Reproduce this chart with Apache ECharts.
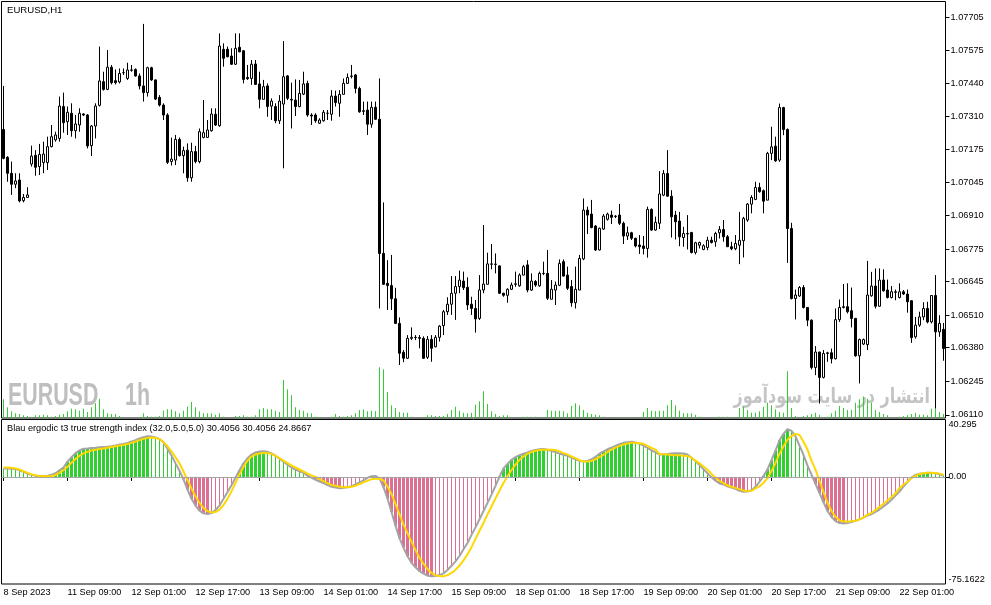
<!DOCTYPE html>
<html><head><meta charset="utf-8">
<script src="https://cdn.jsdelivr.net/npm/echarts@6/dist/echarts.min.js"></script>
<style>html,body{margin:0;padding:0;background:#fff}#c{width:991px;height:605px}</style>
</head><body><div id="c"></div>
<script>
const symbolTitle = 'EURUSD,H1';
const indicatorTitle = 'Blau ergodic t3 true strength index (32.0,5.0,5.0) 30.4056 30.4056 24.8667';
const watermarkSymbol = 'EURUSD';
const watermarkPeriod = '1h';
const watermarkSite = 'انتشار در سایت سودآموز';
const timeLabels = ['8 Sep 2023','11 Sep 09:00','12 Sep 01:00','12 Sep 17:00','13 Sep 09:00','14 Sep 01:00','14 Sep 17:00','15 Sep 09:00','18 Sep 01:00','18 Sep 17:00','19 Sep 09:00','20 Sep 01:00','20 Sep 17:00','21 Sep 09:00','22 Sep 01:00'];
const priceTicks = [1.06110,1.06245,1.06380,1.06510,1.06645,1.06775,1.06910,1.07045,1.07175,1.07310,1.07440,1.07575,1.07705];
const tsiMax = 40.295, tsiMin = -75.1622;

// [open, high, low, close]
const ohlc = [
[1.07256,1.07431,1.07136,1.07140],[1.07144,1.07149,1.07046,1.07080],[1.07080,1.07127,1.06993,1.07036],[1.07036,1.07080,1.07020,1.07049],[1.07053,1.07080,1.06963,1.06969],
[1.06970,1.06997,1.06963,1.06983],[1.06983,1.07024,1.06983,1.06993],[1.07117,1.07191,1.07107,1.07149],[1.07152,1.07173,1.07070,1.07104],[1.07107,1.07198,1.07073,1.07156],
[1.07123,1.07207,1.07080,1.07157],[1.07123,1.07227,1.07093,1.07187],[1.07187,1.07274,1.07184,1.07227],[1.07214,1.07247,1.07207,1.07234],[1.07220,1.07388,1.07207,1.07350],
[1.07348,1.07404,1.07243,1.07283],[1.07287,1.07348,1.07234,1.07325],[1.07321,1.07361,1.07227,1.07251],[1.07251,1.07314,1.07220,1.07278],[1.07274,1.07341,1.07247,1.07321],
[1.07318,1.07321,1.07310,1.07314],[1.07314,1.07318,1.07180,1.07190],[1.07191,1.07274,1.07149,1.07270],[1.07270,1.07361,1.07220,1.07350],[1.07353,1.07589,1.07348,1.07451],
[1.07448,1.07488,1.07412,1.07417],[1.07417,1.07575,1.07414,1.07506],[1.07506,1.07515,1.07437,1.07444],[1.07452,1.07497,1.07437,1.07444],[1.07447,1.07501,1.07441,1.07481],
[1.07484,1.07501,1.07475,1.07484],[1.07461,1.07524,1.07455,1.07495],[1.07495,1.07515,1.07488,1.07494],[1.07497,1.07501,1.07468,1.07471],[1.07471,1.07481,1.07417,1.07431],
[1.07431,1.07680,1.07368,1.07404],[1.07404,1.07508,1.07388,1.07504],[1.07504,1.07508,1.07451,1.07455],[1.07455,1.07457,1.07374,1.07378],[1.07385,1.07394,1.07348,1.07354],
[1.07354,1.07361,1.07294,1.07314],[1.07314,1.07321,1.07117,1.07124],[1.07127,1.07223,1.07111,1.07137],[1.07133,1.07234,1.07113,1.07216],[1.07216,1.07224,1.07147,1.07151],
[1.07151,1.07187,1.07080,1.07171],[1.07173,1.07200,1.07046,1.07062],[1.07062,1.07203,1.07046,1.07167],[1.07167,1.07190,1.07120,1.07127],[1.07127,1.07260,1.07120,1.07247],
[1.07224,1.07374,1.07220,1.07243],[1.07224,1.07294,1.07223,1.07254],[1.07251,1.07341,1.07247,1.07318],[1.07317,1.07341,1.07270,1.07274],[1.07271,1.07642,1.07267,1.07591],
[1.07578,1.07602,1.07508,1.07542],[1.07578,1.07589,1.07546,1.07548],[1.07551,1.07582,1.07515,1.07518],[1.07518,1.07642,1.07515,1.07582],[1.07586,1.07642,1.07566,1.07568],
[1.07572,1.07575,1.07441,1.07457],[1.07465,1.07515,1.07455,1.07460],[1.07461,1.07535,1.07435,1.07518],[1.07519,1.07535,1.07435,1.07437],[1.07439,1.07488,1.07341,1.07377],
[1.07377,1.07455,1.07377,1.07428],[1.07431,1.07441,1.07307,1.07348],[1.07350,1.07381,1.07294,1.07370],[1.07348,1.07361,1.07281,1.07291],[1.07291,1.07394,1.07278,1.07370],
[1.07358,1.07611,1.07100,1.07468],[1.07471,1.07475,1.07374,1.07381],[1.07377,1.07444,1.07260,1.07374],[1.07374,1.07457,1.07310,1.07348],[1.07348,1.07455,1.07345,1.07401],
[1.07398,1.07488,1.07394,1.07439],[1.07441,1.07452,1.07307,1.07314],[1.07314,1.07321,1.07274,1.07310],[1.07314,1.07321,1.07283,1.07291],[1.07281,1.07301,1.07278,1.07294],
[1.07291,1.07334,1.07287,1.07325],[1.07321,1.07334,1.07294,1.07321],[1.07317,1.07414,1.07291,1.07390],[1.07390,1.07412,1.07348,1.07364],[1.07361,1.07414,1.07307,1.07397],
[1.07397,1.07461,1.07397,1.07441],[1.07441,1.07481,1.07439,1.07465],[1.07469,1.07515,1.07461,1.07471],[1.07475,1.07479,1.07401,1.07421],[1.07421,1.07428,1.07323,1.07327],
[1.07331,1.07368,1.07314,1.07329],[1.07334,1.07368,1.07234,1.07277],[1.07277,1.07368,1.07263,1.07345],[1.07345,1.07368,1.07294,1.07297],[1.07297,1.07461,1.06537,1.06758],
[1.06758,1.06963,1.06631,1.06634],[1.06638,1.06731,1.06531,1.06629],[1.06629,1.06752,1.06531,1.06576],[1.06576,1.06620,1.06475,1.06477],[1.06477,1.06501,1.06310,1.06357],
[1.06361,1.06370,1.06321,1.06337],[1.06337,1.06430,1.06334,1.06417],[1.06417,1.06461,1.06410,1.06421],[1.06421,1.06430,1.06410,1.06420],[1.06420,1.06430,1.06377,1.06417],
[1.06417,1.06425,1.06334,1.06337],[1.06341,1.06426,1.06334,1.06413],[1.06413,1.06430,1.06323,1.06377],[1.06383,1.06430,1.06381,1.06421],[1.06421,1.06470,1.06404,1.06466],
[1.06468,1.06531,1.06430,1.06524],[1.06524,1.06582,1.06511,1.06554],[1.06554,1.06667,1.06511,1.06598],[1.06598,1.06667,1.06491,1.06625],[1.06625,1.06689,1.06598,1.06651],
[1.06647,1.06685,1.06611,1.06620],[1.06622,1.06662,1.06531,1.06551],[1.06554,1.06584,1.06511,1.06537],[1.06537,1.06571,1.06440,1.06495],[1.06497,1.06671,1.06491,1.06611],
[1.06611,1.06872,1.06598,1.06635],[1.06634,1.06761,1.06634,1.06716],[1.06716,1.06796,1.06694,1.06715],[1.06715,1.06758,1.06678,1.06714],[1.06708,1.06710,1.06595,1.06598],
[1.06598,1.06600,1.06584,1.06590],[1.06590,1.06618,1.06560,1.06614],[1.06614,1.06641,1.06611,1.06631],[1.06634,1.06685,1.06624,1.06636],[1.06628,1.06678,1.06624,1.06671],
[1.06671,1.06712,1.06671,1.06705],[1.06712,1.06731,1.06602,1.06611],[1.06611,1.06678,1.06607,1.06647],[1.06645,1.06651,1.06624,1.06631],[1.06628,1.06685,1.06624,1.06678],
[1.06678,1.06725,1.06671,1.06677],[1.06678,1.06772,1.06571,1.06578],[1.06574,1.06651,1.06574,1.06614],[1.06611,1.06645,1.06551,1.06631],[1.06630,1.06734,1.06627,1.06718],
[1.06725,1.06734,1.06665,1.06667],[1.06671,1.06705,1.06611,1.06618],[1.06625,1.06651,1.06544,1.06560],[1.06560,1.06705,1.06537,1.06614],[1.06611,1.06752,1.06611,1.06738],
[1.06736,1.06979,1.06731,1.06932],[1.06932,1.06946,1.06836,1.06912],[1.06916,1.06973,1.06859,1.06862],[1.06868,1.06872,1.06768,1.06772],[1.06772,1.06862,1.06770,1.06859],
[1.06856,1.06916,1.06852,1.06908],[1.06895,1.06922,1.06890,1.06916],[1.06912,1.06930,1.06876,1.06903],[1.06906,1.06912,1.06900,1.06908],[1.06912,1.06957,1.06872,1.06879],
[1.06879,1.06886,1.06796,1.06828],[1.06828,1.06866,1.06812,1.06841],[1.06841,1.06845,1.06812,1.06819],[1.06819,1.06821,1.06782,1.06788],[1.06792,1.06832,1.06756,1.06785],
[1.06788,1.06828,1.06754,1.06778],[1.06778,1.06946,1.06741,1.06935],[1.06935,1.06939,1.06849,1.06852],[1.06852,1.06906,1.06849,1.06883],[1.06879,1.07089,1.06856,1.06997],
[1.06992,1.07093,1.06988,1.07079],[1.07079,1.07173,1.06986,1.06988],[1.06988,1.07012,1.06822,1.06905],[1.06912,1.06929,1.06814,1.06885],[1.06888,1.06925,1.06787,1.06825],
[1.06822,1.06865,1.06785,1.06838],[1.06838,1.06912,1.06774,1.06836],[1.06842,1.06845,1.06758,1.06762],[1.06762,1.06805,1.06754,1.06801],[1.06791,1.06805,1.06778,1.06802],
[1.06774,1.06795,1.06771,1.06789],[1.06782,1.06825,1.06771,1.06811],[1.06811,1.06825,1.06798,1.06802],[1.06805,1.06845,1.06785,1.06838],[1.06841,1.06868,1.06818,1.06854],
[1.06854,1.06892,1.06805,1.06825],[1.06825,1.06832,1.06785,1.06785],[1.06785,1.06805,1.06771,1.06777],[1.06777,1.06832,1.06771,1.06798],[1.06791,1.06925,1.06715,1.06811],
[1.06809,1.06905,1.06742,1.06899],[1.06892,1.06961,1.06885,1.06956],[1.06956,1.06992,1.06919,1.06983],[1.06975,1.07046,1.06972,1.07023],[1.07023,1.07042,1.07002,1.07006],
[1.07010,1.07015,1.06919,1.06968],[1.06972,1.07166,1.06972,1.07160],[1.07160,1.07267,1.07133,1.07186],[1.07189,1.07227,1.07126,1.07130],[1.07133,1.07360,1.07126,1.07344],
[1.07344,1.07347,1.07233,1.07256],[1.07256,1.07260,1.06720,1.06858],[1.06858,1.06881,1.06573,1.06577],[1.06577,1.06613,1.06493,1.06591],[1.06587,1.06627,1.06584,1.06621],
[1.06621,1.06631,1.06537,1.06541],[1.06541,1.06543,1.06466,1.06490],[1.06490,1.06493,1.06292,1.06300],[1.06300,1.06386,1.06269,1.06362],[1.06362,1.06363,1.06155,1.06260],
[1.06260,1.06370,1.06256,1.06356],[1.06356,1.06363,1.06323,1.06359],[1.06359,1.06376,1.06316,1.06335],[1.06335,1.06537,1.06332,1.06492],[1.06492,1.06573,1.06483,1.06541],
[1.06541,1.06635,1.06537,1.06544],[1.06544,1.06638,1.06517,1.06524],[1.06528,1.06621,1.06461,1.06497],[1.06497,1.06499,1.06343,1.06347],[1.06347,1.06416,1.06236,1.06412],
[1.06394,1.06416,1.06390,1.06412],[1.06392,1.06728,1.06370,1.06591],[1.06588,1.06684,1.06584,1.06627],[1.06627,1.06698,1.06537,1.06546],[1.06546,1.06698,1.06544,1.06651],
[1.06651,1.06694,1.06604,1.06608],[1.06611,1.06653,1.06577,1.06581],[1.06581,1.06627,1.06577,1.06604],[1.06604,1.06613,1.06570,1.06602],[1.06581,1.06638,1.06577,1.06604],
[1.06604,1.06611,1.06591,1.06595],[1.06595,1.06613,1.06520,1.06564],[1.06568,1.06570,1.06399,1.06420],[1.06423,1.06503,1.06416,1.06470],[1.06470,1.06524,1.06463,1.06503],
[1.06503,1.06562,1.06490,1.06537],[1.06537,1.06564,1.06477,1.06483],[1.06483,1.06591,1.06477,1.06589],[1.06589,1.06671,1.06135,1.06443],[1.06443,1.06510,1.06423,1.06477],
[1.06453,1.06479,1.06327,1.06376]
];

const volume = [
56,32,20,14,12,8,6,3,8,8, 10,8,4,6,10,12,20,28,26,22, 28,18,32,44,58,26,14,12,12,6, 3,1,1,1,1,14,6,4,4,6,
22,26,26,20,14,22,34,48,32,20, 14,14,14,10,14,4,2,1,6,6, 8,4,4,8,26,30,26,26,22,18, 114,86,68,32,24,22,16,14,4,2,
2,1,4,12,6,4,6,8,14,24, 26,20,22,20,152,146,78,38,30,18, 16,16,4,1,1,1,8,8,6,6, 6,12,24,34,22,16,14,16,40,50,
80,42,20,12,6,8,8,2,2,1, 4,4,4,4,1,2,24,22,22,22, 20,14,36,44,38,24,16,12,10,8, 4,1,2,1,2,2,2,2,2,1,
18,30,22,20,22,22,38,54,38,22, 14,14,14,10,4,2,1,2,2,4, 4,4,2,2,30,34,24,16,16,20, 34,46,38,26,18,16,140,30,6,1,
6,8,12,16,10,2,4,14,22,36, 30,24,24,46,56,64,58,46,24,18, 12,8,1,2,4,6,8,12,16,10, 10,8,28,28,18,12
];

const tsi = [
5.9,5.9,5.7,5.5,4.7,3.5,2.3,1.4,0.9,0.7, 0.7,0.9,1.6,2.6,4.7,6.6,10.7,13.8,16.7,18.6,
19.8,20.0,20.3,20.5,20.8,21.0,21.2,21.5,22.0,22.7, 23.1,23.9,24.8,25.8,27.0,27.9,28.6,28.4,27.7,26.5,
24.3,19.8,15.0,9.5,4.3,-1.7,-8.9,-15.4,-20.1,-23.7, -25.6,-26.1,-25.4,-23.2,-20.1,-15.4,-10.6,-5.8,-0.5,4.7,
9.5,13.1,15.7,17.2,17.9,18.1,17.6,16.5,14.8,12.8, 10.7,8.6,6.6,5.2,4.0,2.8,0.9,-0.5,-2.0,-3.2,
-4.4,-5.8,-6.9,-7.4,-7.9,-7.7,-7.2,-6.5,-5.3,-3.8, -2.4,-0.7,0.5,0.7,-1.2,-7.2,-15.1,-24.6,-34.2,-43.0,
-49.6,-55.7,-60.3,-63.4,-66.2,-67.9,-69.3,-69.8,-69.6,-68.9, -67.7,-65.3,-62.4,-59.3,-55.5,-50.7,-46.4,-40.7,-35.4,-29.7,
-23.9,-18.2,-12.4,-6.2,0.2,6.0,9.1,12.0,13.9,15.3, 16.3,17.2,18.2,18.9,19.4,19.6,19.1,18.2,17.5,16.3,
15.5,14.8,13.6,12.4,11.2,10.8,11.2,12.4,14.1,16.3, 17.9,19.4,20.6,21.8,23.0,23.9,24.4,24.6,24.2,23.2,
22.0,20.3,18.7,17.2,15.7,15.9,16.1,16.4,16.6,16.6, 16.4,15.7,13.5,11.1,8.3,5.4,2.6,-0.3,-2.7,-4.6,
-5.3,-6.7,-7.4,-8.4,-9.8,-10.5,-10.3,-9.3,-7.0,-3.5, 0.7,5.3,11.7,18.5,25.7,30.2,33.6,32.3,28.4,22.0,
15.5,7.9,1.5,-4.9,-11.3,-17.8,-23.9,-28.1,-31.0,-32.4, -32.7,-32.4,-31.7,-30.8,-29.8,-28.6,-27.2,-26.2,-24.6,-22.9,
-20.8,-18.6,-16.0,-13.1,-10.3,-6.7,-3.6,-0.5,1.4,2.3, 2.6,3.0,2.8,2.6,1.9,0.9
];

const signal = [
6.6,6.6,6.4,5.9,5.2,4.0,2.8,1.9,1.1,0.7, 0.4,0.4,0.7,1.4,2.8,4.7,7.1,10.0,12.6,14.8,
16.5,17.6,18.6,19.1,19.6,20.0,20.5,21.0,21.5,22.0, 22.4,23.1,23.9,24.8,25.8,26.7,27.4,27.7,27.4,26.5,
24.3,21.5,17.9,13.8,9.5,3.8,-2.2,-8.1,-13.7,-18.2, -21.8,-24.0,-24.9,-24.7,-23.0,-19.7,-15.4,-10.1,-4.1,1.9,
7.1,11.4,14.3,15.7,16.5,16.7,16.7,16.2,14.8,13.1, 11.4,9.7,8.1,6.6,5.2,3.8,2.3,1.1,0.0,-1.5,
-2.9,-4.4,-5.7,-6.2,-6.9,-7.2,-7.2,-6.9,-6.2,-5.0, -3.8,-2.6,-1.7,-1.2,-1.4,-2.4,-6.7,-12.0,-19.1,-26.3,
-33.5,-39.5,-45.4,-51.4,-56.7,-61.0,-64.6,-67.4,-69.1,-69.6, -69.8,-68.9,-67.4,-65.3,-62.2,-58.6,-54.3,-49.3,-43.5,-37.8,
-32.3,-26.3,-20.8,-15.1,-9.6,-4.3,0.5,4.8,8.6,12.0, 14.3,16.3,17.5,18.4,18.9,19.1,19.1,19.1,18.9,17.9,
16.7,15.8,14.3,13.2,11.7,10.8,10.8,11.2,12.4,14.1, 15.5,17.5,19.1,20.6,21.8,22.7,23.4,23.9,23.9,23.7,
23.2,21.8,20.3,19.1,16.1,15.9,15.7,15.4,15.2,15.2, 14.9,14.7,13.3,11.4,9.5,7.3,5.0,2.1,-0.5,-2.7,
-4.3,-6.0,-6.9,-7.7,-8.6,-9.6,-10.0,-9.8,-8.1,-6.7, -4.1,-0.9,4.1,9.8,16.3,21.5,26.1,28.7,30.2,29.5,
24.7,19.2,11.4,5.1,-2.8,-10.6,-18.1,-23.9,-28.0,-30.5, -31.2,-31.5,-31.2,-30.8,-29.8,-28.4,-26.7,-25.3,-23.2,-21.2,
-18.9,-16.5,-14.1,-11.5,-7.9,-5.3,-3.4,-0.8,0.7,2.1, 2.6,3.0,3.0,2.8,2.3,1.4
];

const FONT = 'Liberation Sans';
const cats = ohlc.map((r, i) => i);
const candleData = ohlc.map(r => [r[0], r[3], r[2], r[1]]);
let prevRising = false;
const histData = tsi.map((v, i) => {
  let rising = prevRising;
  if (i > 0 && v !== tsi[i - 1]) rising = v > tsi[i - 1];
  prevRising = rising;
  const strong = v >= 0 ? rising : !rising;
  return [i, v, strong ? 1 : 0];
});
const every16 = (idx) => idx % 16 === 0;

function renderHist(params, api) {
  const i = api.value(0), v = api.value(1), strong = api.value(2);
  const b = api.coord([i, 0]);
  const t = api.coord([i, v]);
  const w = strong ? 3 : 1;
  return {
    type: 'rect',
    shape: { x: b[0] - w / 2, y: Math.min(b[1], t[1]), width: w, height: Math.abs(t[1] - b[1]) },
    style: { fill: v >= 0 ? '#32CD32' : '#DB7093' }
  };
}

const chart = echarts.init(document.getElementById('c'), null, { renderer: 'canvas' });
const labelStyle = { color: '#000', fontSize: 9.2, fontFamily: FONT };
chart.setOption({
  animation: false,
  backgroundColor: '#fff',
  title: [
    { text: symbolTitle, left: 7, top: 5, padding: 0, textStyle: { fontSize: 9.6, fontWeight: 'normal', fontFamily: FONT, color: '#000' } },
    { text: indicatorTitle, left: 7, top: 424, padding: 0, textStyle: { fontSize: 9.2, fontWeight: 'normal', fontFamily: FONT, color: '#000' } }
  ],
  graphic: [
    { type: 'text', z: 1, x: 8, y: 396.5, scaleX: 0.69, style: { text: watermarkSymbol, font: 'bold 31px "Liberation Sans"', fill: '#BEBEBE', align: 'left', verticalAlign: 'middle' } },
    { type: 'text', z: 1, x: 125, y: 396.5, scaleX: 0.69, style: { text: watermarkPeriod, font: 'bold 31px "Liberation Sans"', fill: '#BEBEBE', align: 'left', verticalAlign: 'middle' } },
    { type: 'text', z: 1, x: 930, y: 398, scaleX: 0.76, style: { text: watermarkSite, font: 'bold 21px "DejaVu Sans"', fill: '#C4C4C4', align: 'right', verticalAlign: 'middle' } }
  ],
  grid: [
    { left: 1.5, right: 45.5, top: 1.5, height: 416.5, show: true, borderColor: '#000', borderWidth: 1, backgroundColor: 'transparent' },
    { left: 1.5, right: 45.5, top: 419.5, height: 164.5, show: true, borderColor: '#000', borderWidth: 1, backgroundColor: 'transparent' }
  ],
  xAxis: [
    { type: 'category', gridIndex: 0, data: cats, boundaryGap: true, axisLine: { show: false }, axisTick: { show: false }, axisLabel: { show: false }, splitLine: { show: false } },
    { type: 'category', gridIndex: 1, data: cats, boundaryGap: true,
      axisLine: { show: true, lineStyle: { color: '#000' } },
      axisTick: { show: true, alignWithLabel: true, interval: every16, length: 4, lineStyle: { color: '#000' } },
      axisLabel: Object.assign({ interval: every16, align: 'left', margin: 4, formatter: (v, idx) => timeLabels[idx / 16] || '' }, labelStyle),
      splitLine: { show: false } }
  ],
  yAxis: [
    { type: 'value', gridIndex: 0, position: 'right', min: 1.06097, max: 1.07770, splitLine: { show: false },
      axisLine: { show: false },
      axisTick: { show: true, customValues: priceTicks, length: 4, lineStyle: { color: '#000' } },
      axisLabel: Object.assign({ customValues: priceTicks, margin: 5, formatter: v => v.toFixed(5) }, labelStyle) },
    { type: 'value', gridIndex: 0, min: 0, max: 1247, show: false },
    { type: 'value', gridIndex: 1, position: 'right', min: tsiMin, max: tsiMax, splitLine: { show: false },
      axisLine: { show: false },
      axisTick: { show: true, customValues: [0], length: 4, lineStyle: { color: '#000' } },
      axisLabel: Object.assign({ customValues: [0], margin: 3, formatter: v => v.toFixed(2) }, labelStyle) },
    { type: 'value', gridIndex: 1, position: 'right', min: tsiMin, max: tsiMax, splitLine: { show: false },
      axisLine: { show: false }, axisTick: { show: false },
      axisLabel: Object.assign({ customValues: [tsiMax], margin: 3, verticalAlign: 'top', formatter: v => String(tsiMax) }, labelStyle) },
    { type: 'value', gridIndex: 1, position: 'right', min: tsiMin, max: tsiMax, splitLine: { show: false },
      axisLine: { show: false }, axisTick: { show: false },
      axisLabel: Object.assign({ customValues: [tsiMin], margin: 3, verticalAlign: 'bottom', formatter: v => String(tsiMin) }, labelStyle) }
  ],
  series: [
    { name: 'Volume', type: 'bar', xAxisIndex: 0, yAxisIndex: 1, data: volume, barWidth: 1, itemStyle: { color: '#32CD32' }, silent: true, z: 2 },
    { name: 'EURUSD', type: 'candlestick', xAxisIndex: 0, yAxisIndex: 0, data: candleData, barWidth: 3, silent: true, z: 3,
      itemStyle: { color: '#fff', color0: '#000', borderColor: '#000', borderColor0: '#000', borderWidth: 1 } },
    { name: 'Histogram', type: 'custom', xAxisIndex: 1, yAxisIndex: 2, data: histData, renderItem: renderHist, encode: { x: 0, y: 1 }, silent: true, z: 2 },
    { name: 'TSI', type: 'line', xAxisIndex: 1, yAxisIndex: 2, data: tsi, showSymbol: false, silent: true, z: 3,
      lineStyle: { color: '#A4A4A4', width: 2 },
      markLine: { silent: true, symbol: 'none', label: { show: false }, lineStyle: { color: '#A4A4A4', width: 1, type: 'solid' }, data: [{ yAxis: 0 }] } },
    { name: 'Signal', type: 'line', xAxisIndex: 1, yAxisIndex: 2, data: signal, showSymbol: false, silent: true, z: 4,
      lineStyle: { color: '#FFD700', width: 2 } }
  ]
});
</script>
</body></html>
